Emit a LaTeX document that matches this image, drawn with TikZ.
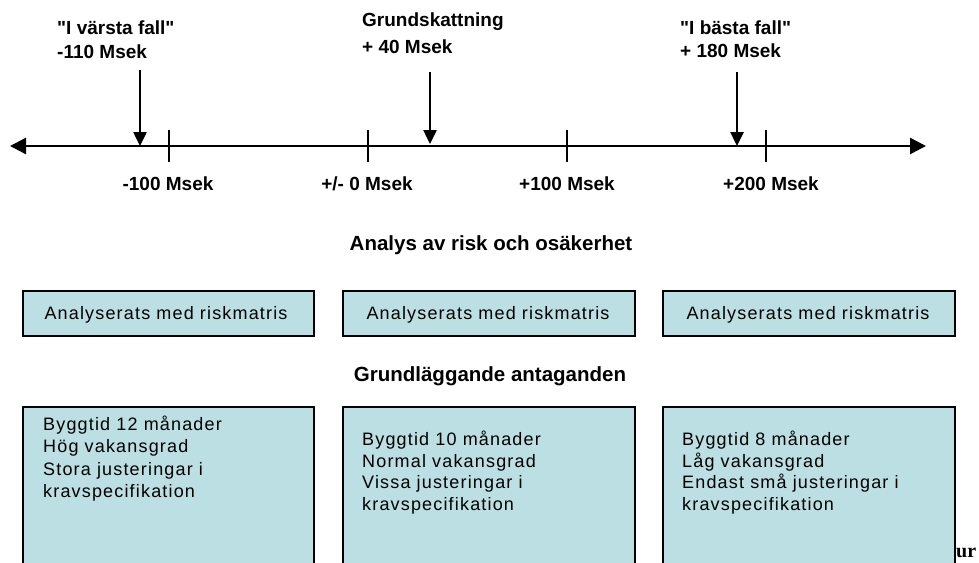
\documentclass[tikz,border=0pt]{standalone}
\usepackage{fontspec}
\setmainfont[Ligatures=TeXOff]{Liberation Sans}
\newfontfamily\boxfont[LetterSpace=6.5]{Liberation Sans}
\newfontfamily\serfont{Liberation Serif}
\usetikzlibrary{arrows.meta}
\definecolor{boxfill}{RGB}{187,223,227}
\tikzset{
  axisline/.style={line width=2.5pt,{Triangle[length=16pt,width=16pt]}-{Triangle[length=16pt,width=16pt]}},
  tickline/.style={line width=2pt},
  downarrow/.style={line width=2.5pt,-{Triangle[length=14pt,width=13pt]}},
  lbl/.style={font=\bfseries\fontsize{19}{22}\selectfont,inner sep=0pt,anchor=base west},
  ticklbl/.style={font=\bfseries\fontsize{19}{22}\selectfont,inner sep=0pt,anchor=base},
  heading/.style={font=\bfseries\fontsize{20.5}{24}\selectfont,inner sep=0pt,anchor=base},
  riskbox/.style={draw=black,line width=2pt,fill=boxfill,anchor=north west,inner sep=0pt},
  boxtxt/.style={font=\boxfont\fontsize{18}{22}\selectfont,inner sep=0pt,anchor=base west},
  boxtxtc/.style={font=\boxfont\fontsize{18}{22}\selectfont,inner sep=0pt,anchor=base},
}
\begin{document}
\begin{tikzpicture}[x=1pt,y=-1pt]
\useasboundingbox (0,0) rectangle (979,562);
% axis
\coordinate (axL) at (10,146);
\coordinate (axR) at (926,146);
\draw[axisline] (axL) -- (axR);
% ticks
\foreach \n/\x in {m/169,z/368,p/567,pp/766}{
  \coordinate (t\n top) at (\x,130);
  \coordinate (t\n bot) at (\x,162);
  \draw[tickline] (t\n top) -- (t\n bot);
}
\node[ticklbl] (lm) at (168,190) {-100 Msek};
\node[ticklbl] (lz) at (367,190) {+/- 0 Msek};
\node[ticklbl] (lp) at (567,190) {+100 Msek};
\node[ticklbl] (lpp) at (771,190) {+200 Msek};
% top labels
\node[lbl] (w1) at (57,34) {"I värsta fall"};
\node[lbl] (w2) at (57,58) {-110 Msek};
\node[lbl] (g1) at (362,27) {Grundskattning};
\node[lbl] (g2) at (362,53) {+ 40 Msek};
\node[lbl] (b1) at (680,34) {"I bästa fall"};
\node[lbl] (b2) at (680,57) {+ 180 Msek};
% down arrows
\coordinate (aw s) at (140,70);  \coordinate (aw e) at (140,146);
\coordinate (ag s) at (430,72);  \coordinate (ag e) at (430,144);
\coordinate (ab s) at (737,72);  \coordinate (ab e) at (737,146);
\draw[downarrow] (aw s) -- (aw e);
\draw[downarrow] (ag s) -- (ag e);
\draw[downarrow] (ab s) -- (ab e);
% headings
\node[heading] (h1) at (491,250) {Analys av risk och osäkerhet};
\node[heading] (h2) at (490,381) {Grundläggande antaganden};
% row 1 boxes
\node[riskbox,minimum width=291pt,minimum height=45pt] (r1) at (22,290) {};
\node[riskbox,minimum width=292pt,minimum height=45pt] (r2) at (342,290) {};
\node[riskbox,minimum width=292pt,minimum height=45pt] (r3) at (662,290) {};
\node[boxtxtc] (r1t) at (166,319) {Analyserats med riskmatris};
\node[boxtxtc] (r2t) at (488,319) {Analyserats med riskmatris};
\node[boxtxtc] (r3t) at (808,319) {Analyserats med riskmatris};
% row 2 boxes
\node[riskbox,minimum width=291pt,minimum height=200pt] (s1) at (22,406) {};
\node[riskbox,minimum width=292pt,minimum height=200pt] (s2) at (342,406) {};
\node[riskbox,minimum width=292pt,minimum height=200pt] (s3) at (662,406) {};
\node[boxtxt] (s1a) at (43,430) {Byggtid 12 månader};
\node[boxtxt] (s1b) at (43,452.5) {Hög vakansgrad};
\node[boxtxt] (s1c) at (43,475) {Stora justeringar i};
\node[boxtxt] (s1d) at (43,497.5) {kravspecifikation};
\node[boxtxt] (s2a) at (362,445) {Byggtid 10 månader};
\node[boxtxt] (s2b) at (362,467) {Normal vakansgrad};
\node[boxtxt] (s2c) at (362,488.5) {Vissa justeringar i};
\node[boxtxt] (s2d) at (362,510) {kravspecifikation};
\node[boxtxt] (s3a) at (682,445) {Byggtid 8 månader};
\node[boxtxt] (s3b) at (682,467) {Låg vakansgrad};
\node[boxtxt] (s3c) at (682,488.5) {Endast små justeringar i};
\node[boxtxt] (s3d) at (682,510) {kravspecifikation};
% trailing text
\node[font=\serfont\bfseries\fontsize{20}{23}\selectfont,inner sep=0pt,anchor=base west] (ur) at (956,557) {ur};
\end{tikzpicture}
\end{document}
